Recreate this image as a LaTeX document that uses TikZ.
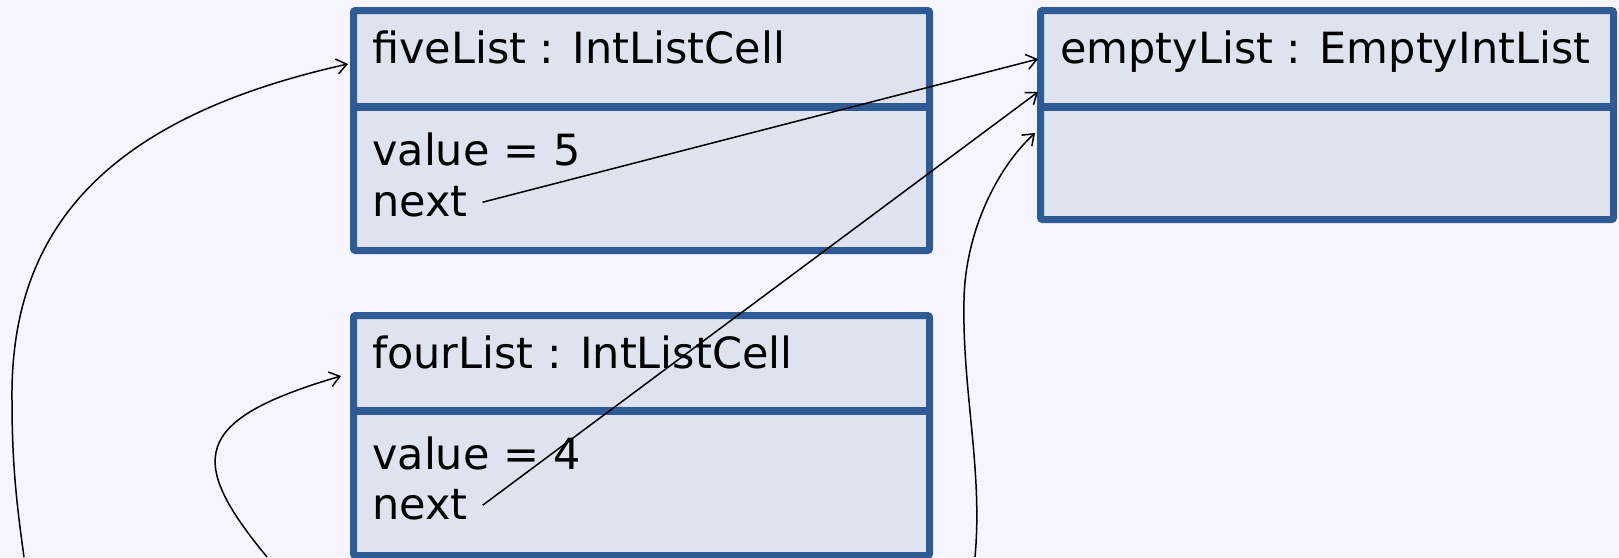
\documentclass[tikz,border=0pt]{standalone}
\usepackage{fontspec}
\setmainfont{DejaVu Sans}
\usetikzlibrary{arrows.meta,calc}
\definecolor{bgcol}{HTML}{F6F4FE}
\definecolor{boxfill}{HTML}{DFE3F0}
\definecolor{boxline}{HTML}{2E5A96}
\begin{document}
\begin{tikzpicture}[x=1pt,y=-1pt,
  objbox/.style={draw=boxline, fill=boxfill, line width=7pt, rounded corners=2pt, anchor=north west, inner sep=0pt},
  divider/.style={draw=boxline, line width=8pt},
  txt/.style={anchor=base west, inner sep=0pt, font=\fontsize{43}{51}\selectfont},
  link/.style={draw=black, line width=1.5pt, -{Straight Barb[length=10pt,width=15pt,line width=1.5pt]}}]
\fill[bgcol] (0,0) rectangle (1619,557);
\useasboundingbox (0,0) rectangle (1619,557);
% boxes
\node[objbox, minimum width=576pt, minimum height=240pt] (five) at (350,7) {};
\node[objbox, minimum width=576pt, minimum height=240pt] (four) at (350,312) {};
\node[objbox, minimum width=573pt, minimum height=209pt] (empty) at (1037,7) {};
\draw[divider] (five.west |- 0,107) -- (five.east |- 0,107);
\draw[divider] (four.west |- 0,411) -- (four.east |- 0,411);
\draw[divider] (empty.west |- 0,107) -- (empty.east |- 0,107);
% texts
\node[txt] (t5) at (372,63) {fiveList : IntListCell};
\node[txt] (v5) at (372,165) {value = 5};
\node[txt] (n5) at (372,216) {next};
\node[txt] (t4) at (372,368) {fourList : IntListCell};
\node[txt] (v4) at (372,469) {value = 4};
\node[txt] (n4) at (372,519) {next};
\node[txt] (te) at (1060,63) {emptyList : EmptyIntList};
% free ends of the references that come from below
\coordinate (s1) at (24,557);
\coordinate (s2) at (267,557);
\coordinate (s3) at (975,557);
% references
\draw[link] ($(n5.east)+(15,1)$) -- ($(empty.north west)+(1,52)$);
\draw[link] ($(n4.east)+(15,1)$) -- ($(empty.north west)+(1,85)$);
\draw[link] (s1) .. controls (16,500) and (12,460) .. (12,400)
  .. controls (10,230) and (105,118) .. ($(five.north west)+(-2,57)$);
\draw[link] (s2) .. controls (187,460) and (191,420) .. ($(four.north west)+(-9,64)$);
\draw[link] (s3) .. controls (983,470) and (962,390) .. (964,300)
  .. controls (965,235) and (995,170) .. ($(empty.north west)+(-2,126)$);
\end{tikzpicture}
\end{document}
